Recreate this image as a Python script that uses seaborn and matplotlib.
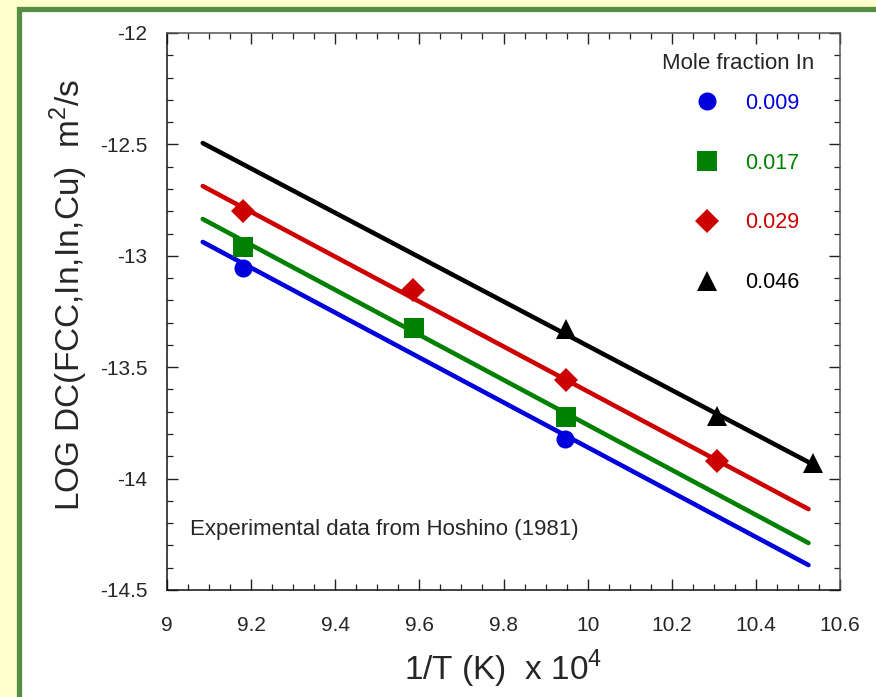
import matplotlib
matplotlib.use("Agg")
import matplotlib.pyplot as plt
from matplotlib.patches import Rectangle
from matplotlib.lines import Line2D
from matplotlib.ticker import MultipleLocator, FuncFormatter
import seaborn as sns
import pandas as pd

# ---- data ----
fractions = ["0.009", "0.017", "0.029", "0.046"]
colors = ["#0000DD", "#008000", "#CC0000", "#000000"]
markers = ["o", "s", "D", "^"]
msizes = [13, 14, 12.5, 14]

# calculated lines (two end points each)
line_x = [9.085, 10.525]
line_y = {
    "0.009": [-12.938, -14.388],
    "0.017": [-12.835, -14.289],
    "0.029": [-12.687, -14.137],
    "0.046": [-12.494, -13.926],
}

# experimental points
exp_x = {
    "0.009": [9.181, 9.946],
    "0.017": [9.181, 9.587, 9.949],
    "0.029": [9.181, 9.585, 9.949, 10.308],
    "0.046": [9.949, 10.308, 10.536],
}
exp_y = {
    "0.009": [-13.055, -13.822],
    "0.017": [-12.960, -13.324, -13.724],
    "0.029": [-12.800, -13.153, -13.557, -13.921],
    "0.046": [-13.330, -13.720, -13.930],
}

x_ticks = [9, 9.2, 9.4, 9.6, 9.8, 10, 10.2, 10.4, 10.6]
y_ticks = [-12, -12.5, -13, -13.5, -14, -14.5]

sns.set_style("ticks")
plt.rcParams["font.family"] = ["Liberation Sans", "DejaVu Sans"]
plt.rcParams["axes.unicode_minus"] = False
plt.rcParams["mathtext.fontset"] = "custom"
plt.rcParams["mathtext.rm"] = "Liberation Sans"

W, H = 876, 697
fig = plt.figure(figsize=(W / 100, H / 100), dpi=100)
fig.patch.set_facecolor("#FFFFCC")

# white panel with green border
panel = Rectangle((18.5 / W, -0.05), 1.2, 1 - 8.5 / H + 0.05,
                  transform=fig.transFigure, facecolor="white",
                  edgecolor="#568F43", linewidth=3.8, zorder=-10)
fig.add_artist(panel)

L, R, T, B = 167, 840, 33, 590
ax = fig.add_axes([L / W, 1 - B / H, (R - L) / W, (B - T) / H])
ax.set_zorder(5)
ax.set_facecolor("white")

for i, f in enumerate(fractions):
    dl = pd.DataFrame({"x": line_x, "y": line_y[f]})
    sns.lineplot(data=dl, x="x", y="y", color=colors[i], linewidth=3.3, ax=ax,
                 zorder=2)
    dp = pd.DataFrame({"x": exp_x[f], "y": exp_y[f]})
    ax.plot(dp["x"], dp["y"], linestyle="none", marker=markers[i],
            markersize=msizes[i], color=colors[i], markeredgewidth=0, zorder=3)

ax.set_xlim(9, 10.6)
ax.set_ylim(-14.5, -12)
ax.xaxis.set_minor_locator(MultipleLocator(0.05))
ax.yaxis.set_minor_locator(MultipleLocator(0.1))
ax.set_xticks(x_ticks)
ax.set_yticks(y_ticks)
ax.xaxis.set_major_formatter(FuncFormatter(lambda v, p: f"{v:g}"))
ax.yaxis.set_major_formatter(FuncFormatter(lambda v, p: f"{v:g}"))
ax.tick_params(which="both", direction="in", top=True, right=True, color="#222222")
ax.tick_params(which="major", length=8, width=1.0)
ax.tick_params(which="minor", length=4.3, width=0.9)
ax.tick_params(axis="x", which="major", labelsize=15, pad=19)
ax.tick_params(axis="y", which="major", labelsize=15, pad=14)
for s in ["left", "bottom"]:
    ax.spines[s].set_color("#111111")
    ax.spines[s].set_linewidth(1.1)
for s in ["right", "top"]:
    ax.spines[s].set_color("#555555")
    ax.spines[s].set_linewidth(1.1)

ax.set_xlabel("1/T (K)  x 10$^4$", fontsize=24, labelpad=9)
ax.set_ylabel("LOG DC(FCC,In,In,Cu)  m$^2$/s", fontsize=24)
ax.yaxis.set_label_coords((90 - L) / (R - L), (B - 294.5) / (B - T))

ax.text((190 - L) / (R - L), (B - 529) / (B - T),
        "Experimental data from Hoshino (1981)", transform=ax.transAxes,
        fontsize=16, ha="left", va="center")

# legend title
ax.text((662 - L) / (R - L), (B - 64) / (B - T), "Mole fraction In",
        transform=ax.transAxes, fontsize=16, ha="left", va="center")

handles = [Line2D([], [], linestyle="none", marker=markers[i], markersize=msizes[i],
                  color=colors[i], markeredgewidth=0) for i in range(len(fractions))]
leg = ax.legend(handles, fractions, frameon=False, loc="upper left",
                bbox_to_anchor=((696 - L) / (R - L), (B - 93) / (B - T)),
                fontsize=15.5, labelspacing=1.8, handlelength=1.0,
                handletextpad=1.3, borderaxespad=0, borderpad=0)
for t, c in zip(leg.get_texts(), colors):
    t.set_color(c)

fig.savefig("out.png", dpi=100, facecolor=fig.get_facecolor())
